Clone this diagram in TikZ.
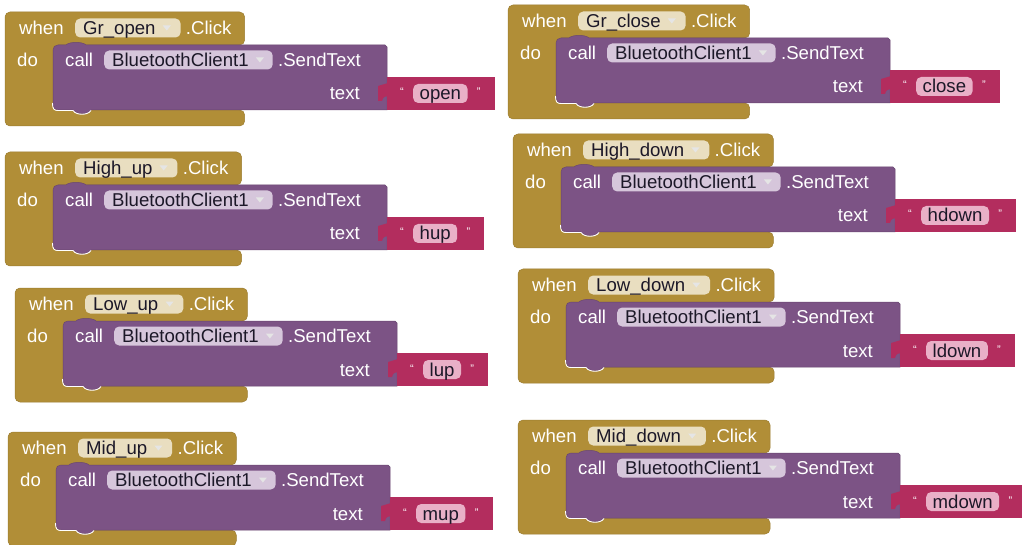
\documentclass[tikz,border=0pt]{standalone}
\usepackage{fontspec}
\setmainfont{Liberation Sans}
\usetikzlibrary{calc}
\definecolor{goldc}{RGB}{177,142,55}
\definecolor{purpc}{RGB}{124,83,133}
\definecolor{pinkc}{RGB}{179,45,94}
\definecolor{hpillc}{RGB}{233,222,192}
\definecolor{ppillc}{RGB}{214,198,219}
\definecolor{spillc}{RGB}{233,176,199}
\definecolor{pilltext}{RGB}{28,24,40}
\pgfdeclarelayer{bglayer}
\pgfdeclarelayer{goldlayer}
\pgfdeclarelayer{purplayer}
\pgfdeclarelayer{pinklayer}
\pgfsetlayers{bglayer,goldlayer,purplayer,pinklayer,main}
\newdimen\aiDim
\tikzset{
 lbl/.style={text=white, inner sep=0pt, anchor=base west},
 pillbase/.style={text=pilltext, rounded corners=5pt, inner xsep=8pt, inner ysep=2pt, text height=14pt, text depth=1pt, anchor=base west},
 hpill/.style={pillbase, fill=hpillc},
 ppill/.style={pillbase, fill=ppillc},
 spill/.style={pillbase, fill=spillc, inner xsep=6.5pt},
 quot/.style={text=white, inner sep=0pt, anchor=base, font=\fontsize{11}{11}\selectfont},
 arrc/.style={fill=white!90!black},
 goldshape/.style={fill=goldc, draw=goldc!88!black, line width=0.5pt, rounded corners=5pt},
 purpshape/.style={fill=purpc, draw=purpc!85!black, line width=0.5pt},
 pinkshape/.style={fill=pinkc}
}
\newcommand\aiblock[5]{%
 \pgfmathsetmacro\gX{#2}\pgfmathsetmacro\gY{#3}%
 \pgfmathsetmacro\pL{#2+48}\pgfmathsetmacro\pT{#3+33}%
 \pgfmathsetmacro\pB{#3+98}\pgfmathsetmacro\pR{#2+382}\pgfmathsetmacro\gB{#3+114}%
 \node[lbl] (#1when) at (\gX+14,\gY+22.5) {when};
 \node[hpill] (#1btn) at (\gX+70,\gY+22.5) {#4\kern17pt};
 \node[lbl] (#1click) at ($(#1btn.base east)+(5,0)$) {.Click};
 \node[lbl] (#1do) at (\gX+12,\pT+21.5) {do};
 \node[lbl] (#1call) at (\pL+12,\pT+21.5) {call};
 \node[ppill] (#1comp) at (\pL+51,\pT+21.5) {BluetoothClient1\kern16pt};
 \node[lbl] (#1send) at ($(#1comp.base east)+(5,0)$) {.SendText};
 \node[lbl,anchor=base east] (#1txt) at (\pR-27,\pT+55) {text};
 \node[spill] (#1str) at (\pR+26,\pT+55) {#5};
 \node[quot] (#1lq) at (\pR+15,\pT+51) {“};
 \node[quot] (#1rq) at ($(#1str.base east)+(11,-4)$) {”};
 \fill[arrc] ($(#1btn.east)+(-18,-2.5)$) -- ++(8,0) -- ++(-4,5) -- cycle;
 \fill[arrc] ($(#1comp.east)+(-17,-2.5)$) -- ++(8,0) -- ++(-4,5) -- cycle;
 \pgfextractx{\aiDim}{\pgfpointanchor{#1click}{east}}\pgfmathsetmacro\hR{\aiDim+13}%
 \pgfextractx{\aiDim}{\pgfpointanchor{#1str}{east}}\pgfmathsetmacro\sR{\aiDim+27}%
 \begin{pgfonlayer}{goldlayer}
  \path[goldshape] (\gX,\gY+20) -- (\gX,\gY) -- (\hR,\gY) -- (\hR,\pT) -- (\pL,\pT) -- (\pL,\pB) -- (\hR,\pB) -- (\hR,\gB) -- (\gX,\gB) -- cycle;
 \end{pgfonlayer}
 \begin{pgfonlayer}{purplayer}
  \path[purpshape] (\pL,\pT+5) .. controls (\pL,\pT+2) and (\pL+2,\pT) .. (\pL+5,\pT) -- (\pL+13,\pT) .. controls (\pL+16,\pT-3.5) and (\pL+30,\pT-3.5) .. (\pL+33,\pT) -- (\pR-2,\pT) -- (\pR,\pT+2) -- (\pR,\pB) -- (\pL+38,\pB) .. controls (\pL+35,\pB+5) and (\pL+23,\pB+5) .. (\pL+20,\pB) -- (\pL+5,\pB) .. controls (\pL+2,\pB) and (\pL,\pB-2) .. (\pL,\pB-5) -- cycle;
  \draw[white, line width=0.9pt] (\pL-0.5,\pB-7) .. controls (\pL-0.5,\pB-1) and (\pL+1,\pB+0.5) .. (\pL+5,\pB+0.5) -- (\pL+20,\pB+0.5) .. controls (\pL+23,\pB+5.5) and (\pL+35,\pB+5.5) .. (\pL+38,\pB+0.5);
 \end{pgfonlayer}
 \begin{pgfonlayer}{pinklayer}
  \path[pinkshape] (\pR,\pT+32) -- (\sR,\pT+32) -- (\sR,\pB) -- (\pR,\pB) -- cycle;
  \path[pinkshape] (\pR+1,\pT+38) -- (\pR-9,\pT+41) -- (\pR-9,\pT+56) -- (\pR-5,\pT+56) .. controls (\pR-4,\pT+52) and (\pR-2,\pT+51) .. (\pR+1,\pT+51) -- cycle;
 \end{pgfonlayer}
}
\begin{document}
\begin{tikzpicture}[x=1pt,y=-1pt,font=\fontsize{18.6}{22}\selectfont]
\begin{pgfonlayer}{bglayer}
\fill[white] (0,0) rectangle (1022,545);
\end{pgfonlayer}
\useasboundingbox (0,0) rectangle (1022,545);
\aiblock{a}{5}{12}{Gr\_open}{open}
\aiblock{b}{5}{152}{High\_up}{hup}
\aiblock{c}{15}{288}{Low\_up}{lup}
\aiblock{d}{8}{432}{Mid\_up}{mup}
\aiblock{e}{508}{5}{Gr\_close}{close}
\aiblock{f}{513}{134}{High\_down}{hdown}
\aiblock{g}{518}{269}{Low\_down}{ldown}
\aiblock{h}{518}{420}{Mid\_down}{mdown}
\end{tikzpicture}
\end{document}
